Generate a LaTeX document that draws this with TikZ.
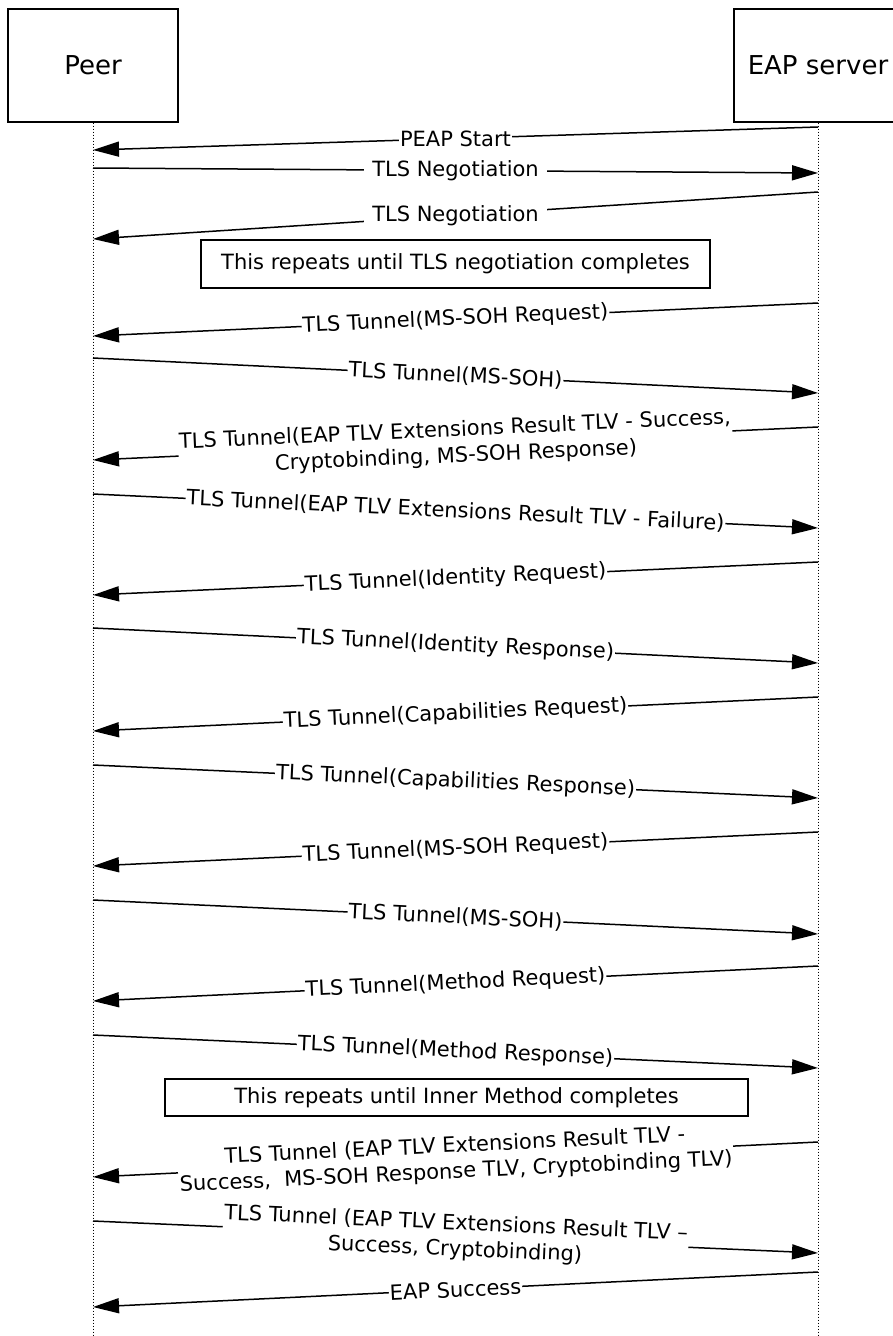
\documentclass[tikz,border=0pt]{standalone}
\usepackage{fontspec}
\setmainfont{DejaVu Sans}
\usetikzlibrary{arrows.meta}

\begin{document}
\begin{tikzpicture}[x=1pt, y=-1pt,
    actor/.style={draw, line width=1.3pt, rectangle, minimum height=113pt, font=\fontsize{26}{30}\selectfont},
    note/.style={draw, line width=1.3pt, rectangle, inner sep=0pt, font=\fontsize{21}{25}\selectfont},
    life/.style={line width=0.8pt, dash pattern=on 1.5pt off 1.5pt},
    msg/.style={line width=1.5pt, -{Triangle[length=26pt, width=15pt]}},
    lbl/.style={fill=white, inner sep=1pt, align=center, font=\fontsize{21}{26}\selectfont}]
    \useasboundingbox (0,0) rectangle (893,1336);

    % Define the actors and their lifelines
    \node[actor, minimum width=170pt] (peer) at (93,65.5) {Peer};
    \node[actor, minimum width=168pt] (eap) at (818,65.5) {EAP server};
    \coordinate (peerend) at (93,1336);
    \coordinate (eapend) at (818,1336);
    \draw[life] (peer.south) -- (peerend);
    \draw[life] (eap.south) -- (eapend);

    % Define the notes
    \node[note, minimum width=509pt, minimum height=48pt] (repeat1) at (455.5,264) {This repeats until TLS negotiation completes};
    \node[note, minimum width=583pt, minimum height=37pt] (repeat2) at (456.5,1097.5) {This repeats until Inner Method completes};

    % Draw the messages between the lifelines
    \draw[msg] (eap.south |- 0,127) -- node[lbl] {PEAP Start} (peer.south |- 0,150);
    \draw[msg] (peer.south |- 0,168) -- node[lbl, inner xsep=8pt] {TLS Negotiation} (eap.south |- 0,173);
    \draw[msg] (eap.south |- 0,192) -- node[lbl, inner xsep=8pt] {TLS Negotiation} (peer.south |- 0,239);
    \draw[msg] (eap.south |- 0,303) -- node[lbl, sloped] {TLS Tunnel(MS-SOH Request)} (peer.south |- 0,336);
    \draw[msg] (peer.south |- 0,358) -- node[lbl, sloped] {TLS Tunnel(MS-SOH)} (eap.south |- 0,393);
    \draw[msg] (eap.south |- 0,427) -- node[lbl, sloped] {TLS Tunnel(EAP TLV Extensions Result TLV - Success,\\Cryptobinding, MS-SOH Response)} (peer.south |- 0,460);
    \draw[msg] (peer.south |- 0,494) -- node[lbl, sloped] {TLS Tunnel(EAP TLV Extensions Result TLV - Failure)} (eap.south |- 0,528);
    \draw[msg] (eap.south |- 0,562) -- node[lbl, sloped] {TLS Tunnel(Identity Request)} (peer.south |- 0,595);
    \draw[msg] (peer.south |- 0,628) -- node[lbl, sloped] {TLS Tunnel(Identity Response)} (eap.south |- 0,663);
    \draw[msg] (eap.south |- 0,697) -- node[lbl, sloped] {TLS Tunnel(Capabilities Request)} (peer.south |- 0,731);
    \draw[msg] (peer.south |- 0,765) -- node[lbl, sloped] {TLS Tunnel(Capabilities Response)} (eap.south |- 0,798);
    \draw[msg] (eap.south |- 0,832) -- node[lbl, sloped] {TLS Tunnel(MS-SOH Request)} (peer.south |- 0,866);
    \draw[msg] (peer.south |- 0,900) -- node[lbl, sloped] {TLS Tunnel(MS-SOH)} (eap.south |- 0,934);
    \draw[msg] (eap.south |- 0,966) -- node[lbl, sloped] {TLS Tunnel(Method Request)} (peer.south |- 0,1001);
    \draw[msg] (peer.south |- 0,1035) -- node[lbl, sloped] {TLS Tunnel(Method Response)} (eap.south |- 0,1068);
    \draw[msg] (eap.south |- 0,1142) -- node[lbl, sloped] {TLS Tunnel (EAP TLV Extensions Result TLV -\\Success,\ \ MS-SOH Response TLV, Cryptobinding TLV)} (peer.south |- 0,1177);
    \draw[msg] (peer.south |- 0,1221) -- node[lbl, sloped] {TLS Tunnel (EAP TLV Extensions Result TLV –\\Success, Cryptobinding)} (eap.south |- 0,1253);
    \draw[msg] (eap.south |- 0,1272) -- node[lbl, sloped] {EAP Success} (peer.south |- 0,1307);
\end{tikzpicture}
\end{document}
